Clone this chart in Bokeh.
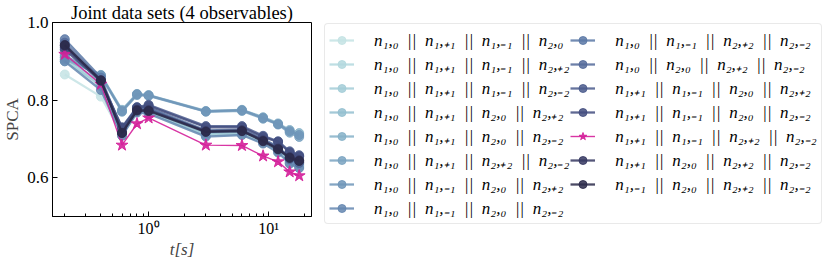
import numpy as np
from bokeh.plotting import figure
from bokeh.models import Legend, LegendItem, FixedTicker, Range1d
from bokeh.embed import file_html
from bokeh.resources import INLINE

# ---------------- data ----------------
t_values = [0.2, 0.4, 0.6, 0.8, 1.0, 3.0, 6.0, 9.0, 12.0, 15.0, 18.0]

SEP = "\u2002||\u2002"
label_parts = [
    ["n₁,₀", "n₁,₊₁", "n₁,₋₁", "n₂,₀"],
    ["n₁,₀", "n₁,₊₁", "n₁,₋₁", "n₂,₊₂"],
    ["n₁,₀", "n₁,₊₁", "n₁,₋₁", "n₂,₋₂"],
    ["n₁,₀", "n₁,₊₁", "n₂,₀", "n₂,₊₂"],
    ["n₁,₀", "n₁,₊₁", "n₂,₀", "n₂,₋₂"],
    ["n₁,₀", "n₁,₊₁", "n₂,₊₂", "n₂,₋₂"],
    ["n₁,₀", "n₁,₋₁", "n₂,₀", "n₂,₊₂"],
    ["n₁,₀", "n₁,₋₁", "n₂,₀", "n₂,₋₂"],
    ["n₁,₀", "n₁,₋₁", "n₂,₊₂", "n₂,₋₂"],
    ["n₁,₀", "n₂,₀", "n₂,₊₂", "n₂,₋₂"],
    ["n₁,₊₁", "n₁,₋₁", "n₂,₀", "n₂,₊₂"],
    ["n₁,₊₁", "n₁,₋₁", "n₂,₀", "n₂,₋₂"],
    ["n₁,₊₁", "n₁,₋₁", "n₂,₊₂", "n₂,₋₂"],
    ["n₁,₊₁", "n₂,₀", "n₂,₊₂", "n₂,₋₂"],
    ["n₁,₋₁", "n₂,₀", "n₂,₊₂", "n₂,₋₂"],
]
labels = [SEP.join(parts) for parts in label_parts]

s01 = [0.866, 0.809, 0.712, 0.770, 0.768, 0.708, 0.712, 0.690, 0.668, 0.638, 0.628]
s02 = [0.905, 0.835, 0.710, 0.772, 0.770, 0.712, 0.715, 0.692, 0.672, 0.642, 0.632]
s03 = [0.900, 0.840, 0.712, 0.770, 0.768, 0.710, 0.713, 0.690, 0.670, 0.640, 0.630]
s04 = [0.910, 0.845, 0.715, 0.775, 0.772, 0.715, 0.718, 0.695, 0.675, 0.645, 0.635]
s05 = [0.905, 0.865, 0.775, 0.816, 0.813, 0.772, 0.775, 0.756, 0.740, 0.723, 0.715]
s06 = [0.910, 0.862, 0.770, 0.813, 0.811, 0.770, 0.772, 0.752, 0.737, 0.716, 0.705]
s07 = [0.915, 0.864, 0.772, 0.815, 0.812, 0.771, 0.774, 0.754, 0.738, 0.720, 0.710]
s08 = [0.900, 0.826, 0.708, 0.768, 0.765, 0.706, 0.710, 0.688, 0.665, 0.636, 0.625]
s09 = [0.957, 0.858, 0.722, 0.780, 0.780, 0.722, 0.724, 0.700, 0.680, 0.650, 0.640]
s10 = [0.948, 0.852, 0.718, 0.778, 0.778, 0.718, 0.720, 0.698, 0.678, 0.648, 0.638]
s11 = [0.935, 0.850, 0.730, 0.782, 0.788, 0.733, 0.733, 0.708, 0.694, 0.668, 0.658]
s12 = [0.930, 0.848, 0.728, 0.780, 0.785, 0.730, 0.730, 0.705, 0.692, 0.665, 0.655]
s13 = [0.918, 0.841, 0.684, 0.739, 0.754, 0.684, 0.683, 0.656, 0.641, 0.615, 0.605]
s14 = [0.940, 0.850, 0.716, 0.775, 0.774, 0.720, 0.722, 0.696, 0.675, 0.653, 0.645]
s15 = [0.942, 0.851, 0.715, 0.773, 0.772, 0.718, 0.720, 0.694, 0.673, 0.651, 0.643]

series = [s01, s02, s03, s04, s05, s06, s07, s08, s09, s10, s11, s12, s13, s14, s15]

colors = ["#c4e3e4", "#b3d8de", "#a3ccd7", "#94bfd0", "#86b1c8", "#7aa3c1",
          "#6f95b9", "#6587b0", "#5b78a6", "#536a9a", "#4b5c8d", "#434e7f",
          "#d4209a", "#363861", "#2b2a4a"]
markers = ["circle"] * 12 + ["star"] + ["circle"] * 2

y_ticks = [0.6, 0.8, 1.0]
x_major = [1, 10]
x_minor = [0.2, 0.3, 0.4, 0.5, 0.6, 0.7, 0.8, 0.9, 2, 3, 4, 5, 6, 7, 8, 9, 20]

SERIF = "Liberation Serif"

# ---------------- main figure ----------------
p = figure(frame_width=259, frame_height=194, x_axis_type="log",
           x_range=Range1d(0.158, 22.8), y_range=Range1d(0.5, 1.0),
           output_backend="svg", toolbar_location=None,
           min_border_left=45, min_border_right=0,
           min_border_top=19, min_border_bottom=0)
p.xgrid.visible = False
p.ygrid.visible = False
p.outline_line_color = "black"
p.outline_line_width = 1
p.background_fill_color = "white"
p.border_fill_color = "white"

p.title.text = "Joint data sets (4 observables)"
p.title.align = "center"
p.title.text_font = SERIF
p.title.text_font_style = "normal"
p.title.text_font_size = "18.5px"
p.title.text_color = "black"
p.title.standoff = 0
p.title.offset = 0

items = []
for lab, s, c, m in zip(labels, series, colors, markers):
    if m == "star":
        r1 = p.line(t_values, s, line_color=c, line_width=1.4, line_alpha=0.9)
        r2 = p.scatter(t_values, s, marker="star", size=12.5, fill_color=c,
                       line_color=c, fill_alpha=0.9, line_alpha=0.9)
    else:
        r1 = p.line(t_values, s, line_color=c, line_width=2.3, line_alpha=0.85)
        r2 = p.scatter(t_values, s, marker="circle", size=9, fill_color=c,
                       line_color=c, fill_alpha=0.85, line_alpha=0.85)
    items.append(LegendItem(label=lab, renderers=[r1, r2]))

for ax in (p.xaxis[0], p.yaxis[0]):
    ax.axis_line_color = "black"
    ax.major_tick_line_color = "black"
    ax.minor_tick_line_color = "black"
    ax.major_tick_in = 5
    ax.major_tick_out = 0
    ax.minor_tick_in = 3
    ax.minor_tick_out = 0
    ax.major_label_text_font = SERIF
    ax.major_label_text_font_size = "17px"
    ax.major_label_text_color = "black"

p.xaxis.ticker = FixedTicker(ticks=x_major, minor_ticks=x_minor)
p.xaxis.major_label_overrides = {1: "10⁰", 10: "10¹"}
p.xaxis.major_label_text_font_size = "16px"
p.xaxis.major_label_standoff = 3
p.xaxis.axis_label = "t[s]"
p.xaxis.axis_label_text_font = SERIF
p.xaxis.axis_label_text_font_style = "italic"
p.xaxis.axis_label_text_font_size = "17px"
p.xaxis.axis_label_standoff = 0

p.yaxis.ticker = FixedTicker(ticks=y_ticks)
p.yaxis.major_label_overrides = {0.6: "0.6", 0.8: "0.8", 1.0: "1.0"}
p.yaxis.minor_tick_line_color = None
p.yaxis.major_label_standoff = 4
p.yaxis.axis_label = "SPCA"
p.yaxis.axis_label_text_font = SERIF
p.yaxis.axis_label_text_font_style = "normal"
p.yaxis.axis_label_text_font_size = "17px"
p.yaxis.axis_label_standoff = 2

legend = Legend(items=items, location=(13, -8), ncols=2, orientation="vertical",
                glyph_width=25, glyph_height=20, spacing=1, padding=4, margin=7,
                label_standoff=20, label_width=192,
                label_text_font=SERIF, label_text_font_style="italic",
                label_text_font_size="17px", label_text_color="black",
                border_line_color="#d4d4d4", border_line_width=1,
                background_fill_color="white", background_fill_alpha=0.9)
if "border_radius" in Legend.properties():
    legend.border_radius = 4
p.add_layout(legend, "right")

open("out.html", "w").write(file_html(p, INLINE))
